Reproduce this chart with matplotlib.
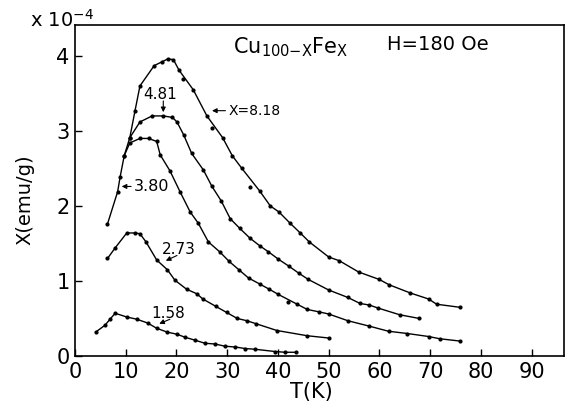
import numpy as np
import matplotlib
matplotlib.use('Agg')
import matplotlib.pyplot as plt

# susceptibility curves, Cu(100-x)Fe(x), H = 180 Oe ; chi in units of 1e-4 emu/g
t_818 = [6.4, 8.4, 8.9, 9.7, 10.8, 11.8, 12.8, 15.6, 17.1, 18.3, 19.4, 20.5, 23.3, 26.0,
         29.1, 31.0, 32.9, 36.4, 38.5, 40.2, 42.4, 44.4, 46.2, 50.0, 52.1, 55.9, 60.0,
         61.9, 66.1, 69.7, 71.3, 75.8]
chi_818 = [1.76, 2.19, 2.39, 2.67, 2.91, 3.26, 3.60, 3.87, 3.92, 3.96, 3.95, 3.81, 3.55, 3.20,
           2.91, 2.67, 2.50, 2.20, 2.00, 1.92, 1.77, 1.64, 1.52, 1.32, 1.27, 1.12, 1.02,
           0.95, 0.84, 0.76, 0.69, 0.65]
t_818_off = [21.2, 27.0, 34.5]
chi_818_off = [3.69, 3.04, 2.25]

t_481 = [10.8, 12.8, 15.2, 17.4, 19.2, 20.1, 21.4, 23.0, 25.3, 27.0, 28.8, 30.6, 32.5, 34.5,
         36.4, 38.1, 40.1, 42.1, 44.2, 46.0, 50.0, 53.8, 56.2, 58.0, 59.7, 64.0, 67.9]
chi_481 = [2.91, 3.12, 3.20, 3.20, 3.18, 3.12, 2.95, 2.70, 2.48, 2.26, 2.07, 1.83, 1.70, 1.57,
           1.47, 1.39, 1.29, 1.20, 1.10, 1.02, 0.88, 0.78, 0.70, 0.68, 0.64, 0.55, 0.50]

t_380 = [9.7, 10.8, 12.8, 14.5, 16.1, 16.8, 18.7, 20.7, 22.7, 24.3, 26.3, 28.5, 30.4, 32.3,
         34.2, 36.4, 38.3, 40.1, 45.8, 48.0, 50.0, 53.8, 57.9, 61.8, 65.5, 69.7, 71.9, 75.8]
chi_380 = [2.67, 2.84, 2.90, 2.90, 2.86, 2.68, 2.47, 2.19, 1.92, 1.77, 1.52, 1.39, 1.26, 1.15,
           1.04, 0.96, 0.89, 0.82, 0.62, 0.59, 0.56, 0.47, 0.40, 0.33, 0.30, 0.26, 0.23, 0.20]
t_380_off = [41.9, 43.8]
chi_380_off = [0.72, 0.69]

t_273 = [6.4, 7.9, 10.2, 11.8, 12.8, 14.0, 16.1, 18.2, 19.7, 22.0, 24.0, 25.2, 27.8, 29.9,
         32.0, 33.9, 35.7, 39.8, 45.8, 50.0]
chi_273 = [1.30, 1.44, 1.64, 1.64, 1.63, 1.52, 1.28, 1.15, 1.01, 0.89, 0.83, 0.76, 0.66, 0.58,
           0.50, 0.47, 0.43, 0.34, 0.27, 0.24]

t_158 = [4.1, 5.9, 6.9, 7.9, 10.2, 12.2, 14.3, 16.1, 18.1, 20.1, 21.7, 23.7, 25.6, 27.6, 29.6,
         31.6, 33.5, 35.5, 39.4, 41.4, 43.6]
chi_158 = [0.32, 0.41, 0.49, 0.57, 0.52, 0.49, 0.44, 0.37, 0.32, 0.29, 0.25, 0.21, 0.17, 0.16, 0.13,
           0.12, 0.10, 0.09, 0.06, 0.05, 0.05]

xticks = [0, 10, 20, 30, 40, 50, 60, 70, 80, 90]
yticks = [0, 1, 2, 3, 4]

fig = plt.figure(figsize=(5.78, 4.03), dpi=100)
ax = fig.add_axes([0.1298, 0.1166, 0.846, 0.821])

for t, c in [(t_818, chi_818), (t_481, chi_481), (t_380, chi_380),
             (t_273, chi_273), (t_158, chi_158)]:
  ax.plot(t, c, '-', color='k', lw=1.0, marker='o', ms=2.0)
ax.plot(t_818_off + t_380_off, chi_818_off + chi_380_off, 'o', color='k', ms=2.0)

ax.set_xlim(0, 96.4)
ax.set_ylim(0, 4.41)
ax.set_xticks(xticks)
ax.set_yticks(yticks)
ax.tick_params(direction='in', length=5, width=1, labelsize=15, pad=4)
for s in ax.spines.values():
  s.set_linewidth(1.2)

arr = dict(arrowstyle='-|>', color='k', lw=0.8, mutation_scale=7, shrinkA=0, shrinkB=0)
ax.annotate('X=8.18', xy=(27.0, 3.27), xytext=(30.2, 3.27), fontsize=10,
            va='center', ha='left', arrowprops=arr)
ax.annotate('', xy=(17.4, 3.25), xytext=(17.4, 3.40), arrowprops=arr)
ax.text(16.8, 3.49, '4.81', fontsize=11, ha='center', va='center')
ax.annotate('3.80', xy=(9.2, 2.26), xytext=(11.6, 2.26), fontsize=11.5,
            va='center', ha='left', arrowprops=arr)
ax.annotate('', xy=(17.9, 1.27), xytext=(20.1, 1.34), arrowprops=arr)
ax.text(20.5, 1.42, '2.73', fontsize=11, ha='center', va='center')
ax.annotate('', xy=(16.6, 0.43), xytext=(18.7, 0.49), arrowprops=arr)
ax.text(18.3, 0.57, '1.58', fontsize=11, ha='center', va='center')

ax.text(42.6, 4.12, r'Cu$_{\mathrm{100{-}X}}$Fe$_{\mathrm{X}}$', fontsize=15,
        ha='center', va='center')
ax.text(71.6, 4.15, 'H=180 Oe', fontsize=14, ha='center', va='center')

fig.text(30 / 578., 1 - 20 / 403., r'x 10$^{-4}$', fontsize=14, ha='left', va='center')
fig.text(25 / 578., 0.504, 'X(emu/g)', fontsize=14, rotation=90, ha='center', va='center')
fig.text(311 / 578., 1 - 392 / 403., 'T(K)', fontsize=15, ha='center', va='center')

fig.savefig('out.png', dpi=100)
